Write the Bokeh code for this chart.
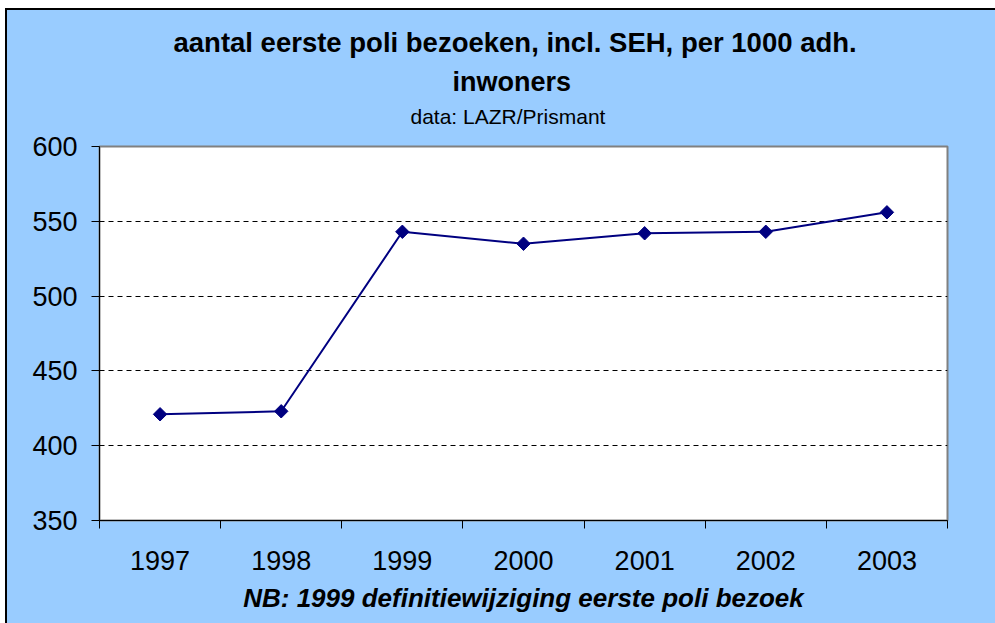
import numpy as np
from bokeh.plotting import figure
from bokeh.models import Range1d, FixedTicker, Title
from bokeh.embed import file_html
from bokeh.resources import INLINE

years = ["1997", "1998", "1999", "2000", "2001", "2002", "2003"]
visits = [421, 423, 543, 535, 542, 543, 556]
y_ticks = [350, 400, 450, 500, 550, 600]
grid_ticks = [400, 450, 500, 550]
title_line1 = "aantal eerste poli bezoeken, incl. SEH, per 1000 adh."
title_line2 = "inwoners"
subtitle = "data: LAZR/Prismant"
note = "NB: 1999 definitiewijziging eerste poli bezoek"

FONT = "Liberation Sans"
BG = "#99CCFF"
NAVY = "#000080"

W, H = 995, 623
L, R, B = 99, 48, 103

p = figure(width=W, height=H, output_backend="svg", toolbar_location=None,
           x_range=Range1d(0, len(years)), y_range=Range1d(350, 600),
           min_border_left=L, min_border_right=R, min_border_top=0, min_border_bottom=B)
p.styles = {
    "background": ("linear-gradient(black, black) 5px 8px / 2px 100% no-repeat, "
                   "linear-gradient(black, black) 5px 8px / 100% 2px no-repeat, "
                   f"linear-gradient({BG}, {BG}) 5px 8px / 100% 100% no-repeat, white"),
}
p.background_fill_color = "white"
p.border_fill_alpha = 0
p.outline_line_color = "#808080"
p.outline_line_width = 2

xs = np.arange(len(years)) + 0.5
p.line(xs, visits, line_color=NAVY, line_width=2)
p.scatter(xs, visits, marker="square", angle=np.pi / 4, size=9.5,
          fill_color=NAVY, line_color=NAVY)

# x axis: labels centred in categories, tick marks on boundaries
xa = p.xaxis[0]
xa.ticker = FixedTicker(ticks=list(xs), minor_ticks=list(range(len(years) + 1)))
xa.major_label_overrides = {float(x): y for x, y in zip(xs, years)}
xa.major_tick_out = 0
xa.major_tick_in = 0
xa.minor_tick_out = 8
xa.minor_tick_in = 0
xa.minor_tick_line_color = "black"
xa.axis_line_color = "black"
xa.major_label_text_font = FONT
xa.major_label_text_font_size = "27px"
xa.major_label_text_color = "black"
xa.major_label_standoff = 22
xa.axis_label = note
xa.axis_label_text_font = FONT
xa.axis_label_text_font_size = "26px"
xa.axis_label_text_font_style = "bold italic"
xa.axis_label_text_color = "black"
xa.axis_label_standoff = 10

ya = p.yaxis[0]
ya.ticker = FixedTicker(ticks=y_ticks)
ya.major_tick_out = 8
ya.major_tick_in = 0
ya.minor_tick_out = 0
ya.minor_tick_in = 0
ya.axis_line_color = "black"
ya.major_tick_line_color = "black"
ya.major_label_text_font = FONT
ya.major_label_text_font_size = "27px"
ya.major_label_text_color = "black"
ya.major_label_standoff = 14

p.xgrid.visible = False
p.ygrid.ticker = FixedTicker(ticks=grid_ticks)
p.ygrid.grid_line_color = "black"
p.ygrid.grid_line_dash = "5 4"
p.ygrid.grid_line_width = 1

def title(text, size, standoff, offset=0, style="normal", align="left"):
    p.add_layout(Title(text=text, text_font=FONT, text_font_size=size,
                       text_font_style=style, align=align, offset=offset,
                       standoff=standoff, text_color="black"), "above")

# stacked from the frame outwards
title(" ", "1px", 14.4)
title(subtitle, "21px", 2, offset=311)
title(title_line2, "27px", 8.6, offset=353, style="bold")
title(title_line1, "27.5px", 5.2, offset=74, style="bold")
title(" ", "1px", 19.3)

open("out.html", "w").write(file_html(p, INLINE))
